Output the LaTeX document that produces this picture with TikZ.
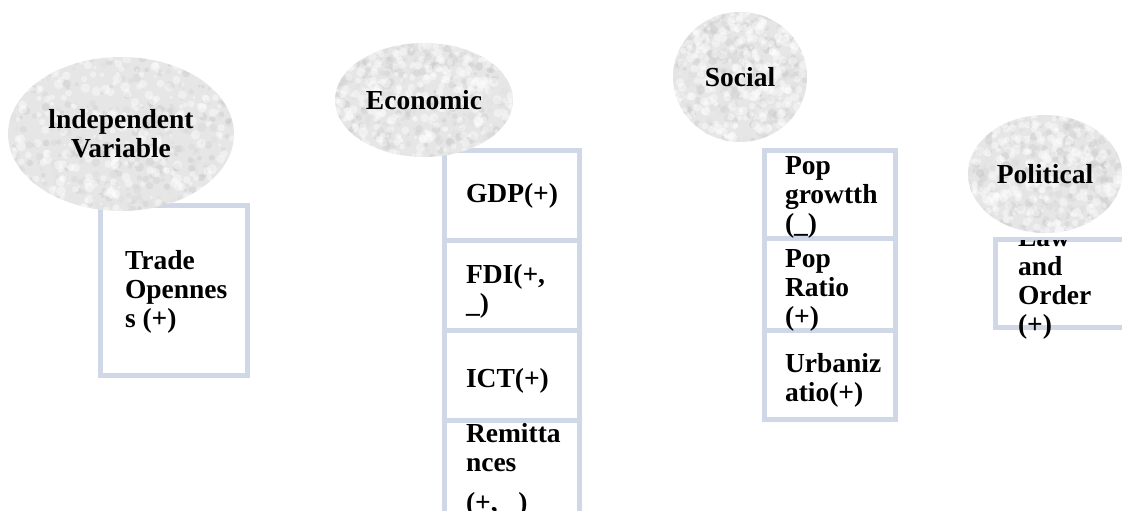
\documentclass[tikz,border=0pt]{standalone}
\usepackage{fontspec}
\setmainfont{Liberation Serif}
\usetikzlibrary{shapes.geometric}
\definecolor{cellblue}{RGB}{208,216,232}
\definecolor{blobgray}{RGB}{230,230,230}
\begin{document}
\begin{tikzpicture}[x=1pt,y=-1pt,
  cell/.style={draw=cellblue, line width=5pt, rectangle, inner sep=0pt, outer sep=0pt, anchor=north west},
  txt/.style={anchor=base west, inner sep=0pt, outer sep=0pt, font=\fontsize{27.5}{29}\selectfont\bfseries},
  blob/.style 2 args={ellipse, fill=blobgray, inner sep=0pt, align=center,
    font=\fontsize{27.5}{29}\selectfont\bfseries,
    path picture={
      \foreach \k in {1,...,380}{
        \pgfmathsetmacro\sx{rand*#1}
        \pgfmathsetmacro\sy{rand*#2}
        \pgfmathsetmacro\sg{10+16*rnd}
        \pgfmathsetmacro\sr{1.5+3*rnd}
        \fill[black!\sg, opacity=.35] ([shift={(\sx,\sy)}]path picture bounding box.center) circle[radius=\sr];
      }
      \foreach \k in {1,...,320}{
        \pgfmathsetmacro\sx{rand*#1}
        \pgfmathsetmacro\sy{rand*#2}
        \pgfmathsetmacro\sr{1.5+3.5*rnd}
        \fill[white, opacity=.4] ([shift={(\sx,\sy)}]path picture bounding box.center) circle[radius=\sr];
      }
    }}]
\pgfmathsetseed{7}
\clip (0,0) rectangle (1122,511);
\useasboundingbox (0,0) rectangle (1122,511);

% boxes
\node[cell, minimum width=147, minimum height=170] (trade) at (100.5,205.5) {};
\node[cell, minimum width=135, minimum height=89.5] (gdp) at (444.5,150.5) {};
\node[cell, minimum width=135, minimum height=90] (fdi) at (444.5,240) {};
\node[cell, minimum width=135, minimum height=90] (ict) at (444.5,330) {};
\node[cell, minimum width=135, minimum height=100] (rem) at (444.5,420) {};
\node[cell, minimum width=131, minimum height=87.5] (pgr) at (764.5,150.5) {};
\node[cell, minimum width=131, minimum height=92] (pra) at (764.5,238) {};
\node[cell, minimum width=131, minimum height=89.5] (urb) at (764.5,330) {};
\node[cell, minimum width=140, minimum height=88] (law) at (995.5,239.5) {};

% box texts
\node[txt] (tTrade) at (125,269) {\begin{tabular}[t]{@{}l@{}}Trade\\Opennes\\s (+)\end{tabular}};
\node[txt] (tGdp) at (466,202) {GDP(+)};
\node[txt] (tFdi) at (466,283) {\begin{tabular}[t]{@{}l@{}}FDI(+,\\\_)\end{tabular}};
\node[txt] (tIct) at (466,387) {ICT(+)};
\node[txt] (tRem) at (466,442) {\begin{tabular}[t]{@{}l@{}}Remitta\\nces\\[11pt](+, \_)\end{tabular}};
\node[txt] (tPgr) at (785,174) {\begin{tabular}[t]{@{}l@{}}Pop\\growtth\\(\_)\end{tabular}};
\node[txt] (tPra) at (785,267) {\begin{tabular}[t]{@{}l@{}}Pop\\Ratio\\(+)\end{tabular}};
\node[txt] (tUrb) at (785,372) {\begin{tabular}[t]{@{}l@{}}Urbaniz\\atio(+)\end{tabular}};
\begin{scope}
  \clip (990,240.5) rectangle (1122,345);
  \node[txt] (tLaw) at (1018,246) {\begin{tabular}[t]{@{}l@{}}Law\\and\\Order\\(+)\end{tabular}};
\end{scope}

% ellipses
\node[blob={113}{77}, minimum width=226, minimum height=154] (ind) at (121,134) {lndependent\\Variable};
\node[blob={89}{57}, minimum width=178, minimum height=114] (eco) at (424,100) {Economic};
\node[blob={67}{65}, minimum width=134, minimum height=130] (soc) at (740,77) {Social};
\node[blob={77}{59}, minimum width=154, minimum height=118] (pol) at (1045,174) {Political};
\end{tikzpicture}
\end{document}
